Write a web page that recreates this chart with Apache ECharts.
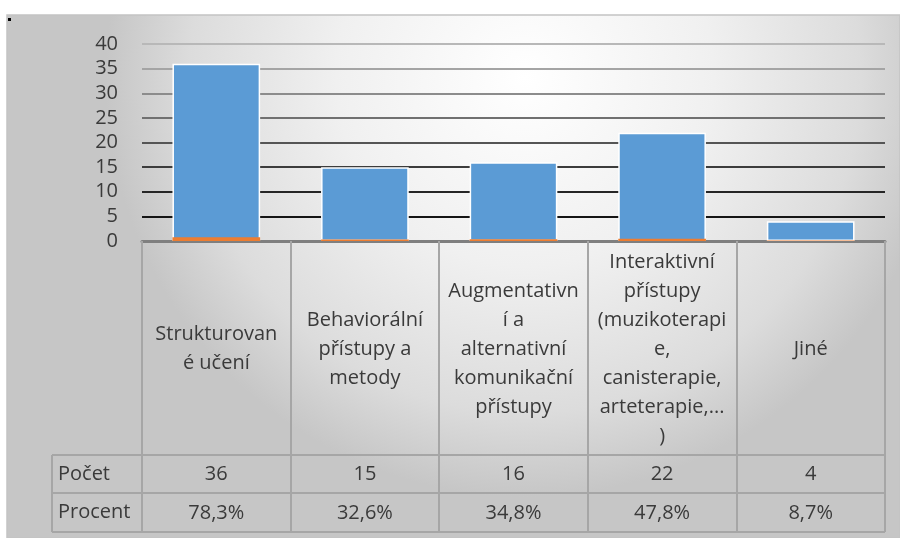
<!DOCTYPE html>
<html>
<head>
<meta charset="utf-8">
<script src="https://cdn.jsdelivr.net/npm/echarts@6/dist/echarts.min.js"></script>
<style>
  html, body { margin: 0; padding: 0; background: #ffffff; }
  #chart { width: 900px; height: 538px; }
</style>
</head>
<body>
<div id="chart"></div>
<script>
// Category labels, wrapped as they appear in the table cells
const categories = [
  'Strukturovan\né učení',
  'Behaviorální\npřístupy a\nmetody',
  'Augmentativn\ní a\nalternativní\nkomunikační\npřístupy',
  'Interaktivní\npřístupy\n(muzikoterapi\ne,\ncanisterapie,\narteterapie,...\n)',
  'Jiné'
];
// Row "Počet" – number of answers
const counts = [36, 15, 16, 22, 4];
// Row "Procent" – share of respondents (fraction)
const percents = [0.783, 0.326, 0.348, 0.478, 0.087];
// Value axis ticks
const yTicks = [0, 5, 10, 15, 20, 25, 30, 35, 40];

const FONT = '"Open Sans", "Noto Sans", sans-serif';
const TXT = '#3a3a3a';

const fmtPct = v => (v * 100).toFixed(1).replace('.', ',') + '%';

const chart = echarts.init(document.getElementById('chart'), null, { renderer: 'canvas' });

const gridLeft = 142, gridRight = 15, gridTop = 44, axisY = 241;
const tableLeft = 52, tableRight = 900 - gridRight, row1 = 455, row2 = 493, row3 = 532;

chart.setOption({
  animation: false,
  textStyle: { fontFamily: FONT },
  grid: { left: gridLeft, right: gridRight, top: gridTop, bottom: 538 - axisY, containLabel: false },
  xAxis: [
    {
      type: 'category',
      data: categories,
      position: 'bottom',
      axisLine: { show: true, lineStyle: { color: '#7f7f7f', width: 3 } },
      axisTick: { show: true, interval: 0, length: row3 - axisY, lineStyle: { color: '#a6a6a6', width: 2 } },
      axisLabel: {
        interval: 0, margin: 108, verticalAlign: 'middle', align: 'center',
        fontSize: 20, lineHeight: 29, color: TXT, fontFamily: FONT
      },
      splitLine: { show: false }
    },
    {
      type: 'category',
      data: counts.map(String),
      position: 'bottom',
      axisLine: { show: false }, axisTick: { show: false }, splitLine: { show: false },
      axisLabel: { interval: 0, margin: 233, verticalAlign: 'middle', fontSize: 20, color: TXT, fontFamily: FONT }
    },
    {
      type: 'category',
      data: percents.map(fmtPct),
      position: 'bottom',
      axisLine: { show: false }, axisTick: { show: false }, splitLine: { show: false },
      axisLabel: { interval: 0, margin: 272, verticalAlign: 'middle', fontSize: 20, color: TXT, fontFamily: FONT }
    }
  ],
  yAxis: {
    type: 'value',
    min: yTicks[0],
    max: yTicks[yTicks.length - 1],
    interval: yTicks[1] - yTicks[0],
    axisLine: { show: false },
    axisTick: { show: false },
    axisLabel: { margin: 24, fontSize: 20, color: TXT, fontFamily: FONT },
    splitLine: {
      show: true,
      lineStyle: {
        width: 2,
        color: ['#555555', '#151515', '#262626', '#3c3c3c', '#555555', '#707070', '#8c8c8c', '#a4a4a4', '#b8b8b8']
      }
    }
  },
  series: [
    {
      name: 'Počet',
      type: 'bar',
      data: counts,
      barWidth: '59%',
      barGap: '-100%',
      itemStyle: { color: '#5B9BD5', borderColor: '#ffffff', borderWidth: 1.5 }
    },
    {
      name: 'Procent',
      type: 'bar',
      data: percents,
      barWidth: '59%',
      barGap: '-100%',
      itemStyle: { color: '#ED7D31' }
    }
  ],
  graphic: [
    {
      type: 'rect', z: -10, silent: true,
      shape: { x: 7, y: 15, width: 900 - 7, height: 538 - 15 },
      style: {
        fill: {
          type: 'radial', x: 0.58, y: 0.12, r: 0.8,
          colorStops: [
            { offset: 0, color: '#ffffff' },
            { offset: 0.45, color: '#f0f0f0' },
            { offset: 0.8, color: '#dcdcdc' },
            { offset: 1, color: '#c6c6c6' }
          ]
        },
        stroke: '#c4c4c4', lineWidth: 1.5
      }
    },
    { type: 'rect', z: 10, silent: true, shape: { x: 8, y: 18, width: 3, height: 3 }, style: { fill: '#000000' } },
    { type: 'line', z: 10, silent: true, shape: { x1: tableLeft, y1: row1, x2: tableRight, y2: row1 }, style: { stroke: '#a6a6a6', lineWidth: 2 } },
    { type: 'line', z: 10, silent: true, shape: { x1: tableLeft, y1: row2, x2: tableRight, y2: row2 }, style: { stroke: '#a6a6a6', lineWidth: 2 } },
    { type: 'line', z: 10, silent: true, shape: { x1: tableLeft, y1: row3, x2: tableRight, y2: row3 }, style: { stroke: '#a6a6a6', lineWidth: 2 } },
    { type: 'line', z: 10, silent: true, shape: { x1: tableLeft, y1: row1, x2: tableLeft, y2: row3 }, style: { stroke: '#a6a6a6', lineWidth: 2 } },
    { type: 'text', z: 10, silent: true, x: 58, y: (row1 + row2) / 2,
      style: { text: 'Počet', fill: TXT, font: '20px ' + FONT, verticalAlign: 'middle', align: 'left' } },
    { type: 'text', z: 10, silent: true, x: 58, y: (row2 + row3) / 2,
      style: { text: 'Procent', fill: TXT, font: '20px ' + FONT, verticalAlign: 'middle', align: 'left' } }
  ]
});
</script>
</body>
</html>
